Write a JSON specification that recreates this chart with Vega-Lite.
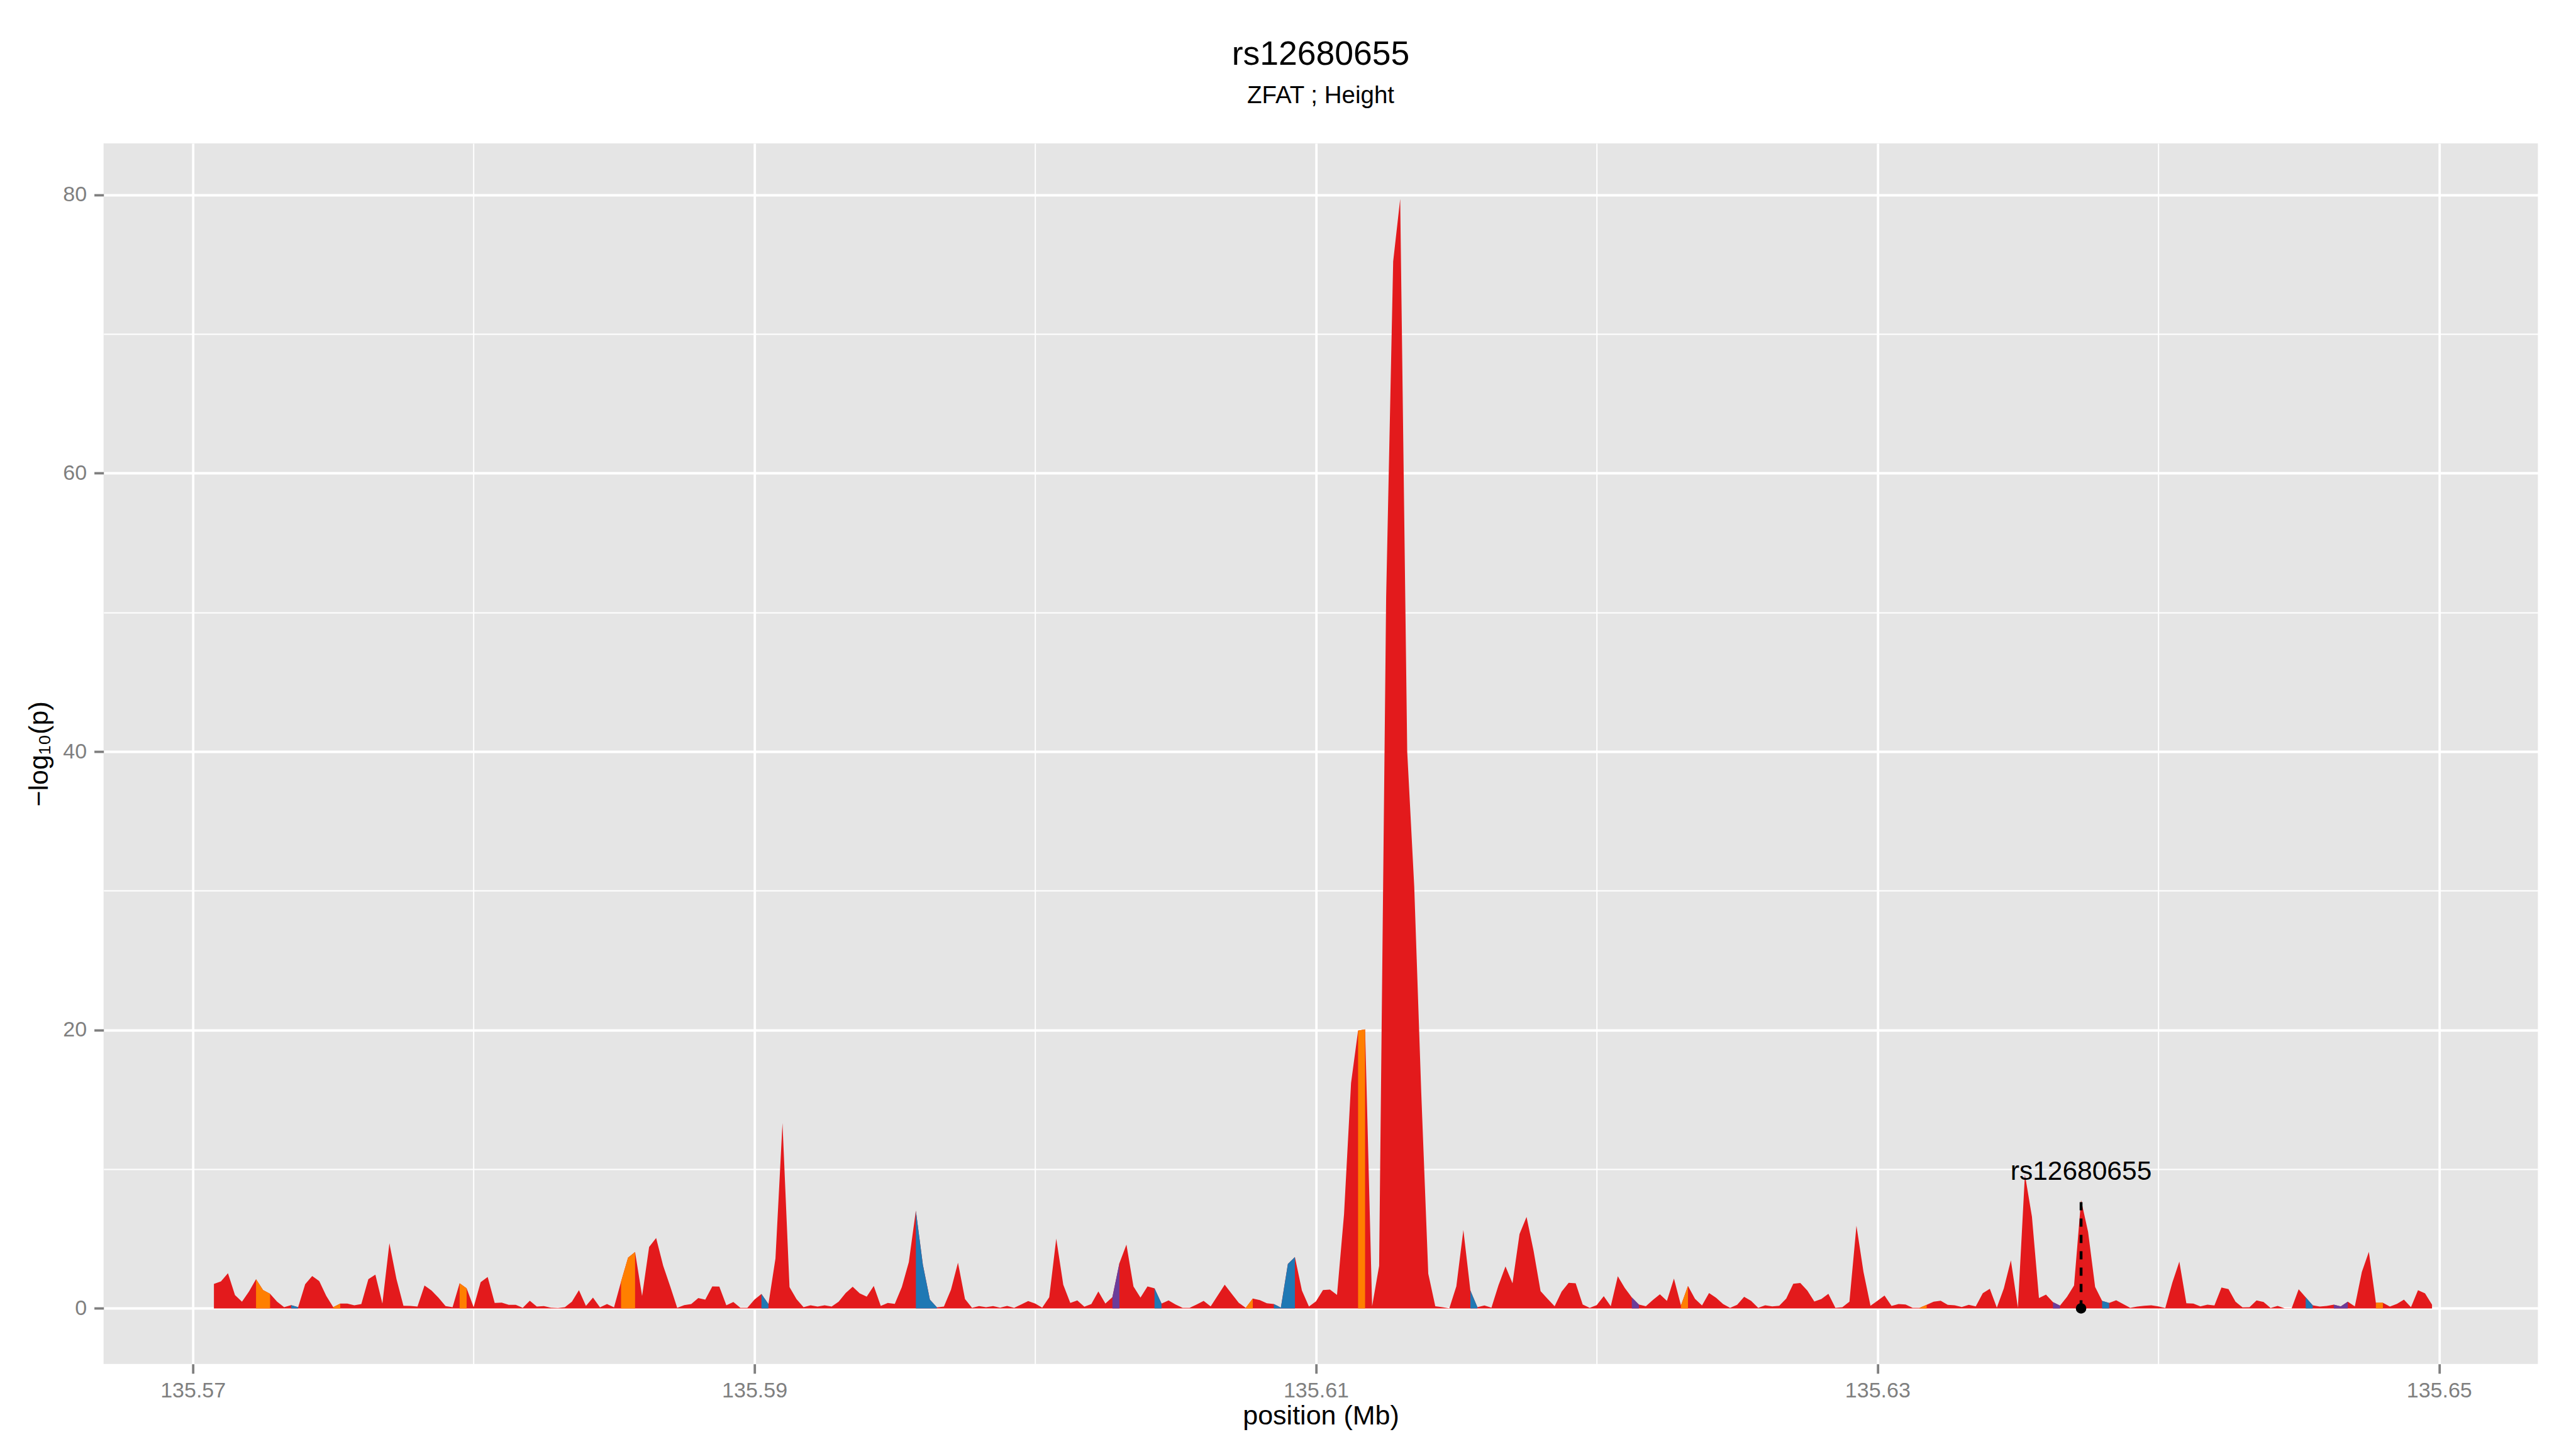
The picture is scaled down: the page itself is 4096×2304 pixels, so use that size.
{
"$schema": "https://vega.github.io/schema/vega-lite/v6.json",
"width": 3870.7, "height": 1940.7,
"autosize": {"type": "none"},
"padding": {"left": 164.7, "top": 228, "right": 60.6, "bottom": 135.3},
"background": "white",
"config": {"view": {"fill": "#E5E5E5", "stroke": null}, "font": "Liberation Sans"},
"title": {"text": "rs12680655", "subtitle": "ZFAT ; Height", "anchor": "middle", "frame": "group", "font": "Liberation Sans", "fontSize": 53.5, "fontWeight": "normal", "color": "black", "subtitleFont": "Liberation Sans", "subtitleFontSize": 38.5, "subtitleColor": "black", "subtitlePadding": 20, "offset": 55.5},
"datasets": {
"snps": [
{"pos":135.57075,"logp":1.76},{"pos":135.571,"logp":1.94},{"pos":135.57125,"logp":2.53},{"pos":135.5715,"logp":0.96},{"pos":135.57175,"logp":0.49},{"pos":135.572,"logp":1.22},{"pos":135.57225,"logp":2.10},{"pos":135.5725,"logp":1.32},{"pos":135.57275,"logp":1.05},{"pos":135.573,"logp":0.49},
{"pos":135.57325,"logp":0.09},{"pos":135.5735,"logp":0.24},{"pos":135.57375,"logp":0.09},{"pos":135.574,"logp":1.74},{"pos":135.57425,"logp":2.33},{"pos":135.5745,"logp":1.97},{"pos":135.57475,"logp":0.90},{"pos":135.575,"logp":0.09},{"pos":135.57525,"logp":0.35},{"pos":135.5755,"logp":0.35},
{"pos":135.57575,"logp":0.22},{"pos":135.576,"logp":0.32},{"pos":135.57625,"logp":2.10},{"pos":135.5765,"logp":2.43},{"pos":135.57675,"logp":0.35},{"pos":135.577,"logp":4.69},{"pos":135.57725,"logp":2.12},{"pos":135.5775,"logp":0.19},{"pos":135.57775,"logp":0.18},{"pos":135.578,"logp":0.13},
{"pos":135.57825,"logp":1.65},{"pos":135.5785,"logp":1.29},{"pos":135.57875,"logp":0.77},{"pos":135.579,"logp":0.17},{"pos":135.57925,"logp":0.09},{"pos":135.5795,"logp":1.81},{"pos":135.57975,"logp":1.45},{"pos":135.58,"logp":0.09},{"pos":135.58025,"logp":1.89},{"pos":135.5805,"logp":2.26},
{"pos":135.58075,"logp":0.40},{"pos":135.581,"logp":0.42},{"pos":135.58125,"logp":0.26},{"pos":135.5815,"logp":0.26},{"pos":135.58175,"logp":0.04},{"pos":135.582,"logp":0.55},{"pos":135.58225,"logp":0.13},{"pos":135.5825,"logp":0.17},{"pos":135.58275,"logp":0.06},{"pos":135.583,"logp":0.03},
{"pos":135.58325,"logp":0.09},{"pos":135.5835,"logp":0.48},{"pos":135.58375,"logp":1.31},{"pos":135.584,"logp":0.18},{"pos":135.58425,"logp":0.78},{"pos":135.5845,"logp":0.08},{"pos":135.58475,"logp":0.31},{"pos":135.585,"logp":0.08},{"pos":135.58525,"logp":1.92},{"pos":135.5855,"logp":3.65},
{"pos":135.58575,"logp":4.05},{"pos":135.586,"logp":0.89},{"pos":135.58625,"logp":4.42},{"pos":135.5865,"logp":5.06},{"pos":135.58675,"logp":3.07},{"pos":135.587,"logp":1.59},{"pos":135.58725,"logp":0.05},{"pos":135.5875,"logp":0.24},{"pos":135.58775,"logp":0.32},{"pos":135.588,"logp":0.75},
{"pos":135.58825,"logp":0.63},{"pos":135.5885,"logp":1.58},{"pos":135.58875,"logp":1.57},{"pos":135.589,"logp":0.23},{"pos":135.58925,"logp":0.46},{"pos":135.5895,"logp":0.05},{"pos":135.58975,"logp":0.05},{"pos":135.59,"logp":0.63},{"pos":135.59025,"logp":1.04},{"pos":135.5905,"logp":0.31},
{"pos":135.59075,"logp":3.59},{"pos":135.591,"logp":13.32},{"pos":135.59125,"logp":1.53},{"pos":135.5915,"logp":0.67},{"pos":135.59175,"logp":0.09},{"pos":135.592,"logp":0.23},{"pos":135.59225,"logp":0.13},{"pos":135.5925,"logp":0.22},{"pos":135.59275,"logp":0.13},{"pos":135.593,"logp":0.48},
{"pos":135.59325,"logp":1.11},{"pos":135.5935,"logp":1.56},{"pos":135.59375,"logp":1.08},{"pos":135.594,"logp":0.85},{"pos":135.59425,"logp":1.61},{"pos":135.5945,"logp":0.18},{"pos":135.59475,"logp":0.39},{"pos":135.595,"logp":0.33},{"pos":135.59525,"logp":1.53},{"pos":135.5955,"logp":3.33},
{"pos":135.59575,"logp":7.02},{"pos":135.596,"logp":3.14},{"pos":135.59625,"logp":0.63},{"pos":135.5965,"logp":0.08},{"pos":135.59675,"logp":0.13},{"pos":135.597,"logp":1.34},{"pos":135.59725,"logp":3.29},{"pos":135.5975,"logp":0.68},{"pos":135.59775,"logp":0.04},{"pos":135.598,"logp":0.17},
{"pos":135.59825,"logp":0.09},{"pos":135.5985,"logp":0.17},{"pos":135.59875,"logp":0.06},{"pos":135.599,"logp":0.18},{"pos":135.59925,"logp":0.05},{"pos":135.5995,"logp":0.28},{"pos":135.59975,"logp":0.53},{"pos":135.6,"logp":0.35},{"pos":135.60025,"logp":0.06},{"pos":135.6005,"logp":0.80},
{"pos":135.60075,"logp":5.01},{"pos":135.601,"logp":1.71},{"pos":135.60125,"logp":0.39},{"pos":135.6015,"logp":0.58},{"pos":135.60175,"logp":0.12},{"pos":135.602,"logp":0.32},{"pos":135.60225,"logp":1.22},{"pos":135.6025,"logp":0.35},{"pos":135.60275,"logp":0.81},{"pos":135.603,"logp":3.25},
{"pos":135.60325,"logp":4.59},{"pos":135.6035,"logp":1.58},{"pos":135.60375,"logp":0.78},{"pos":135.604,"logp":1.58},{"pos":135.60425,"logp":1.45},{"pos":135.6045,"logp":0.35},{"pos":135.60475,"logp":0.58},{"pos":135.605,"logp":0.28},{"pos":135.60525,"logp":0.04},{"pos":135.6055,"logp":0.04},
{"pos":135.60575,"logp":0.28},{"pos":135.606,"logp":0.54},{"pos":135.60625,"logp":0.15},{"pos":135.6065,"logp":0.93},{"pos":135.60675,"logp":1.71},{"pos":135.607,"logp":1.05},{"pos":135.60725,"logp":0.41},{"pos":135.6075,"logp":0.04},{"pos":135.60775,"logp":0.71},{"pos":135.608,"logp":0.60},
{"pos":135.60825,"logp":0.37},{"pos":135.6085,"logp":0.32},{"pos":135.60875,"logp":0.06},{"pos":135.609,"logp":3.19},{"pos":135.60925,"logp":3.69},{"pos":135.6095,"logp":1.29},{"pos":135.60975,"logp":0.13},{"pos":135.61,"logp":0.51},{"pos":135.61025,"logp":1.32},{"pos":135.6105,"logp":1.35},
{"pos":135.61075,"logp":0.97},{"pos":135.611,"logp":6.76},{"pos":135.61125,"logp":16.2},{"pos":135.6115,"logp":19.95},{"pos":135.61175,"logp":20.05},{"pos":135.612,"logp":0.16},{"pos":135.61225,"logp":3.06},{"pos":135.6125,"logp":51.1},{"pos":135.61275,"logp":75.2},{"pos":135.613,"logp":79.7},
{"pos":135.61325,"logp":40},{"pos":135.6135,"logp":30.3},{"pos":135.61375,"logp":15.5},{"pos":135.614,"logp":2.5},{"pos":135.61425,"logp":0.16},{"pos":135.6145,"logp":0.09},{"pos":135.61475,"logp":0.01},{"pos":135.615,"logp":1.59},{"pos":135.61525,"logp":5.64},{"pos":135.6155,"logp":1.29},
{"pos":135.61575,"logp":0.09},{"pos":135.616,"logp":0.21},{"pos":135.61625,"logp":0.06},{"pos":135.6165,"logp":1.66},{"pos":135.61675,"logp":3.01},{"pos":135.617,"logp":1.81},{"pos":135.61725,"logp":5.34},{"pos":135.6175,"logp":6.57},{"pos":135.61775,"logp":4.14},{"pos":135.618,"logp":1.24},
{"pos":135.61825,"logp":0.69},{"pos":135.6185,"logp":0.16},{"pos":135.61875,"logp":1.21},{"pos":135.619,"logp":1.84},{"pos":135.61925,"logp":1.81},{"pos":135.6195,"logp":0.28},{"pos":135.61975,"logp":0.04},{"pos":135.62,"logp":0.24},{"pos":135.62025,"logp":0.88},{"pos":135.6205,"logp":0.16},
{"pos":135.62075,"logp":2.31},{"pos":135.621,"logp":1.47},{"pos":135.62125,"logp":0.79},{"pos":135.6215,"logp":0.28},{"pos":135.62175,"logp":0.16},{"pos":135.622,"logp":0.61},{"pos":135.62225,"logp":1.02},{"pos":135.6225,"logp":0.54},{"pos":135.62275,"logp":2.14},{"pos":135.623,"logp":0.21},
{"pos":135.62325,"logp":1.62},{"pos":135.6235,"logp":0.69},{"pos":135.62375,"logp":0.21},{"pos":135.624,"logp":1.11},{"pos":135.62425,"logp":0.77},{"pos":135.6245,"logp":0.32},{"pos":135.62475,"logp":0.04},{"pos":135.625,"logp":0.26},{"pos":135.62525,"logp":0.84},{"pos":135.6255,"logp":0.54},
{"pos":135.62575,"logp":0.04},{"pos":135.626,"logp":0.22},{"pos":135.62625,"logp":0.15},{"pos":135.6265,"logp":0.19},{"pos":135.62675,"logp":0.71},{"pos":135.627,"logp":1.77},{"pos":135.62725,"logp":1.83},{"pos":135.6275,"logp":1.29},{"pos":135.62775,"logp":0.50},{"pos":135.628,"logp":0.68},
{"pos":135.62825,"logp":1.05},{"pos":135.6285,"logp":0.04},{"pos":135.62875,"logp":0.09},{"pos":135.629,"logp":0.49},{"pos":135.62925,"logp":5.94},{"pos":135.6295,"logp":2.63},{"pos":135.62975,"logp":0.19},{"pos":135.63,"logp":0.55},{"pos":135.63025,"logp":0.93},{"pos":135.6305,"logp":0.18},
{"pos":135.63075,"logp":0.32},{"pos":135.631,"logp":0.28},{"pos":135.63125,"logp":0.04},{"pos":135.6315,"logp":0.04},{"pos":135.63175,"logp":0.26},{"pos":135.632,"logp":0.49},{"pos":135.63225,"logp":0.55},{"pos":135.6325,"logp":0.26},{"pos":135.63275,"logp":0.23},{"pos":135.633,"logp":0.10},
{"pos":135.63325,"logp":0.26},{"pos":135.6335,"logp":0.15},{"pos":135.63375,"logp":1.09},{"pos":135.634,"logp":1.41},{"pos":135.63425,"logp":0.06},{"pos":135.6345,"logp":1.45},{"pos":135.63475,"logp":3.46},{"pos":135.635,"logp":0.06},{"pos":135.63525,"logp":9.62},{"pos":135.6355,"logp":6.6},
{"pos":135.63575,"logp":0.75},{"pos":135.636,"logp":0.99},{"pos":135.63625,"logp":0.45},{"pos":135.6365,"logp":0.20},{"pos":135.63675,"logp":0.83},{"pos":135.637,"logp":1.65},{"pos":135.63725,"logp":7.78},{"pos":135.6375,"logp":5.5},{"pos":135.63775,"logp":1.55},{"pos":135.638,"logp":0.54},
{"pos":135.63825,"logp":0.39},{"pos":135.6385,"logp":0.59},{"pos":135.63875,"logp":0.32},{"pos":135.639,"logp":0.05},{"pos":135.63925,"logp":0.14},{"pos":135.6395,"logp":0.19},{"pos":135.63975,"logp":0.23},{"pos":135.64,"logp":0.15},{"pos":135.64025,"logp":0.03},{"pos":135.6405,"logp":1.85},
{"pos":135.64075,"logp":3.37},{"pos":135.641,"logp":0.37},{"pos":135.64125,"logp":0.35},{"pos":135.6415,"logp":0.15},{"pos":135.64175,"logp":0.27},{"pos":135.642,"logp":0.21},{"pos":135.64225,"logp":1.50},{"pos":135.6425,"logp":1.39},{"pos":135.64275,"logp":0.48},{"pos":135.643,"logp":0.08},
{"pos":135.64325,"logp":0.09},{"pos":135.6435,"logp":0.57},{"pos":135.64375,"logp":0.46},{"pos":135.644,"logp":0.03},{"pos":135.64425,"logp":0.18},{"pos":135.6445,"logp":0.01},{"pos":135.64475,"logp":0.01},{"pos":135.645,"logp":1.38},{"pos":135.64525,"logp":0.80},{"pos":135.6455,"logp":0.23},
{"pos":135.64575,"logp":0.14},{"pos":135.646,"logp":0.18},{"pos":135.64625,"logp":0.27},{"pos":135.6465,"logp":0.15},{"pos":135.64675,"logp":0.49},{"pos":135.647,"logp":0.15},{"pos":135.64725,"logp":2.62},{"pos":135.6475,"logp":4.07},{"pos":135.64775,"logp":0.41},{"pos":135.648,"logp":0.41},
{"pos":135.64825,"logp":0.14},{"pos":135.6485,"logp":0.33},{"pos":135.64875,"logp":0.63},{"pos":135.649,"logp":0.09},{"pos":135.64925,"logp":1.31},{"pos":135.6495,"logp":1.08},{"pos":135.64975,"logp":0.27}
],
"ld": [
{"seg":1,"cat":"r2 0.5-0.8","pos":135.57225,"logp":2.10},{"seg":1,"cat":"r2 0.5-0.8","pos":135.5725,"logp":1.32},{"seg":1,"cat":"r2 0.5-0.8","pos":135.57275,"logp":1.05},
{"seg":2,"cat":"r2 0.2-0.5","pos":135.5735,"logp":0.24},{"seg":2,"cat":"r2 0.2-0.5","pos":135.57375,"logp":0.09},
{"seg":3,"cat":"r2 0.5-0.8","pos":135.575,"logp":0.09},{"seg":3,"cat":"r2 0.5-0.8","pos":135.57525,"logp":0.35},
{"seg":4,"cat":"r2 0.5-0.8","pos":135.5795,"logp":1.81},{"seg":4,"cat":"r2 0.5-0.8","pos":135.57975,"logp":1.45},
{"seg":5,"cat":"r2 0.5-0.8","pos":135.58525,"logp":1.92},{"seg":5,"cat":"r2 0.5-0.8","pos":135.5855,"logp":3.65},{"seg":5,"cat":"r2 0.5-0.8","pos":135.58575,"logp":4.05},
{"seg":6,"cat":"r2 0.2-0.5","pos":135.59025,"logp":1.04},{"seg":6,"cat":"r2 0.2-0.5","pos":135.5905,"logp":0.31},
{"seg":7,"cat":"r2 0.2-0.5","pos":135.59575,"logp":7.02},{"seg":7,"cat":"r2 0.2-0.5","pos":135.596,"logp":3.14},{"seg":7,"cat":"r2 0.2-0.5","pos":135.59625,"logp":0.63},{"seg":7,"cat":"r2 0.2-0.5","pos":135.5965,"logp":0.08},
{"seg":8,"cat":"r2 0.8-1","pos":135.60275,"logp":0.81},{"seg":8,"cat":"r2 0.8-1","pos":135.603,"logp":3.25},
{"seg":9,"cat":"r2 0.2-0.5","pos":135.60425,"logp":1.45},{"seg":9,"cat":"r2 0.2-0.5","pos":135.6045,"logp":0.35},
{"seg":10,"cat":"r2 0.5-0.8","pos":135.6075,"logp":0.04},{"seg":10,"cat":"r2 0.5-0.8","pos":135.60775,"logp":0.71},
{"seg":11,"cat":"r2 0.2-0.5","pos":135.6085,"logp":0.32},{"seg":11,"cat":"r2 0.2-0.5","pos":135.60875,"logp":0.06},{"seg":11,"cat":"r2 0.2-0.5","pos":135.609,"logp":3.19},{"seg":11,"cat":"r2 0.2-0.5","pos":135.60925,"logp":3.69},
{"seg":12,"cat":"r2 0.5-0.8","pos":135.6115,"logp":19.95},{"seg":12,"cat":"r2 0.5-0.8","pos":135.61175,"logp":20.05},
{"seg":13,"cat":"r2 0.2-0.5","pos":135.6155,"logp":1.29},{"seg":13,"cat":"r2 0.2-0.5","pos":135.61575,"logp":0.09},
{"seg":14,"cat":"r2 0.8-1","pos":135.62125,"logp":0.79},{"seg":14,"cat":"r2 0.8-1","pos":135.6215,"logp":0.28},
{"seg":15,"cat":"r2 0.5-0.8","pos":135.623,"logp":0.21},{"seg":15,"cat":"r2 0.5-0.8","pos":135.62325,"logp":1.62},
{"seg":16,"cat":"r2 0.5-0.8","pos":135.6315,"logp":0.04},{"seg":16,"cat":"r2 0.5-0.8","pos":135.63175,"logp":0.26},
{"seg":17,"cat":"r2 0.8-1","pos":135.63625,"logp":0.45},{"seg":17,"cat":"r2 0.8-1","pos":135.6365,"logp":0.20},
{"seg":18,"cat":"r2 0.2-0.5","pos":135.638,"logp":0.54},{"seg":18,"cat":"r2 0.2-0.5","pos":135.63825,"logp":0.39},
{"seg":19,"cat":"r2 0.2-0.5","pos":135.64525,"logp":0.80},{"seg":19,"cat":"r2 0.2-0.5","pos":135.6455,"logp":0.23},
{"seg":20,"cat":"r2 0.8-1","pos":135.64625,"logp":0.27},{"seg":20,"cat":"r2 0.8-1","pos":135.6465,"logp":0.15},{"seg":20,"cat":"r2 0.8-1","pos":135.64675,"logp":0.49},
{"seg":21,"cat":"r2 0.5-0.8","pos":135.64775,"logp":0.41},{"seg":21,"cat":"r2 0.5-0.8","pos":135.648,"logp":0.41}
],
"lead": [{"snp":"rs12680655","pos":135.63725,"logp":7.9}]
},
"encoding": {
"x": {"field": "pos", "type": "quantitative",
 "scale": {"domain": [135.56682, 135.65352], "nice": false, "zero": false},
 "axis": {"values": [135.57,135.58,135.59,135.6,135.61,135.62,135.63,135.64,135.65], "title": "position (Mb)",
  "labelExpr": "round(datum.value*100)%2===1 ? format(datum.value, '.2f') : ''",
  "grid": true, "gridColor": "white", "gridWidth": {"condition": {"test": "round(datum.value*100)%2===1", "value": 3.8}, "value": 1.9},
  "domain": false, "ticks": true, "tickColor": "#7F7F7F", "tickSize": 15.1, "tickWidth": 3.8,
  "tickOpacity": {"condition": {"test": "round(datum.value*100)%2===0", "value": 0}, "value": 1},
  "labelFont": "Liberation Sans", "labelFontSize": 34, "labelColor": "#7F7F7F", "labelPadding": 10.5, "labelFlush": false, "labelOverlap": false,
  "titleFont": "Liberation Sans", "titleFontSize": 43, "titleFontWeight": "normal", "titleColor": "black", "titleY": 96, "titleBaseline": "alphabetic"}},
"y": {"field": "logp", "type": "quantitative", "stack": null,
 "scale": {"domain": [-3.985, 83.685], "nice": false, "zero": false},
 "axis": {"values": [0,10,20,30,40,50,60,70,80], "title": "−log₁₀(p)",
  "labelExpr": "datum.value % 20 === 0 ? datum.label : ''",
  "grid": true, "gridColor": "white", "gridWidth": {"condition": {"test": "datum.value % 20 === 0", "value": 3.8}, "value": 1.9},
  "domain": false, "ticks": true, "tickColor": "#7F7F7F", "tickSize": 15.1, "tickWidth": 3.8,
  "tickOpacity": {"condition": {"test": "datum.value % 20 !== 0", "value": 0}, "value": 1},
  "labelFont": "Liberation Sans", "labelFontSize": 34, "labelColor": "#7F7F7F", "labelPadding": 12, "labelOverlap": false, "labelFlush": false,
  "titleFont": "Liberation Sans", "titleFontSize": 43, "titleFontWeight": "normal", "titleColor": "black", "titleAngle": -90, "titleX": -89.3, "titleY": 970.35, "titleAlign": "center", "titleBaseline": "alphabetic"}}
},
"layer": [
{"data": {"name": "snps"}, "mark": {"type": "area", "color": "#E31A1C", "interpolate": "linear"}, "encoding": {"y2": {"datum": 0}}},
{"data": {"name": "ld"}, "mark": {"type": "area", "interpolate": "linear"}, "encoding": {"y2": {"datum": 0},
 "color": {"field": "cat", "type": "nominal", "scale": {"domain": ["r2 0.2-0.5", "r2 0.5-0.8", "r2 0.8-1"], "range": ["#1F78B4", "#FF7F00", "#6A3D9A"]}, "legend": null},
 "detail": {"field": "seg", "type": "nominal"}}},
{"data": {"name": "lead"}, "mark": {"type": "rule", "color": "black", "strokeWidth": 4.5, "strokeDash": [13, 13]}, "encoding": {"y": {"datum": 0}, "y2": {"field": "logp"}}},
{"data": {"name": "lead"}, "mark": {"type": "circle", "color": "black", "size": 277, "opacity": 1}, "encoding": {"y": {"datum": 0}}},
{"data": {"name": "lead"}, "mark": {"type": "text", "font": "Liberation Sans", "fontSize": 42.5, "color": "black", "align": "center", "baseline": "alphabetic", "dy": -29.6}, "encoding": {"text": {"field": "snp"}}}
]
}
